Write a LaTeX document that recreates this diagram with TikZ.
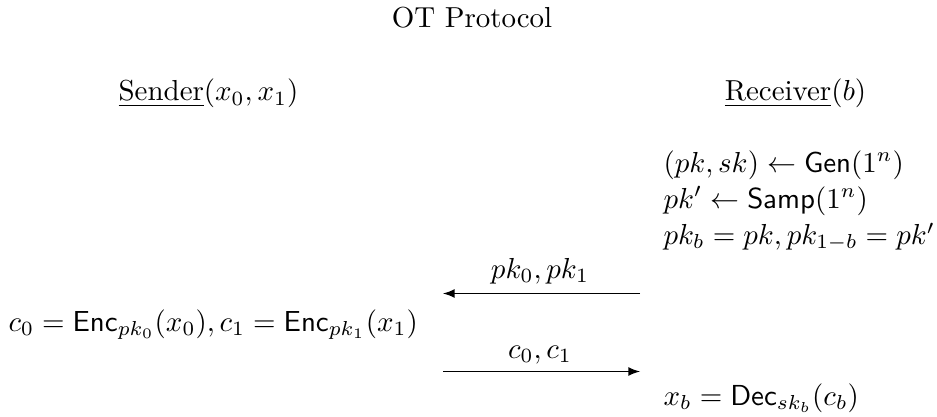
\documentclass[tikz,border=0pt]{standalone}
\usepackage{amsmath}
\begin{document}
\begin{tikzpicture}[x=0.34554pt,y=-0.34554pt,
  txt/.style={inner sep=0pt, anchor=base},
  lft/.style={inner sep=0pt, anchor=base west},
  msg/.style={-latex, line width=0.4pt}]
\useasboundingbox (0,0) rectangle (937,417);
\node[txt] (title) at (472,27.5) {OT Protocol};
\node[txt] (sender) at (208.5,101) {\underline{Sender}$(x_0,x_1)$};
\node[txt] (receiver) at (795.5,101) {\underline{Receiver}$(b)$};
\node[lft] (r1) at (663,172) {$(pk,sk)\leftarrow\mathsf{Gen}(1^n)$};
\node[lft] (r2) at (663,208.5) {$pk'\leftarrow\mathsf{Samp}(1^n)$};
\node[lft] (r3) at (663,244.5) {$pk_b=pk,pk_{1-b}=pk'$};
\coordinate (a1r) at (640,293.5);
\coordinate (a1l) at (443,293.5);
\node[txt] (m1) at (540,278) {$pk_0,pk_1$};
\draw[msg] (a1r) -- (a1l);
\node[lft] (s1) at (8,331) {$c_0=\mathsf{Enc}_{pk_0}(x_0),c_1=\mathsf{Enc}_{pk_1}(x_1)$};
\coordinate (a2l) at (443,371.5);
\coordinate (a2r) at (640,371.5);
\node[txt] (m2) at (540,358) {$c_0,c_1$};
\draw[msg] (a2l) -- (a2r);
\node[lft] (r4) at (663,405) {$x_b=\mathsf{Dec}_{sk_b}(c_b)$};
\end{tikzpicture}
\end{document}
